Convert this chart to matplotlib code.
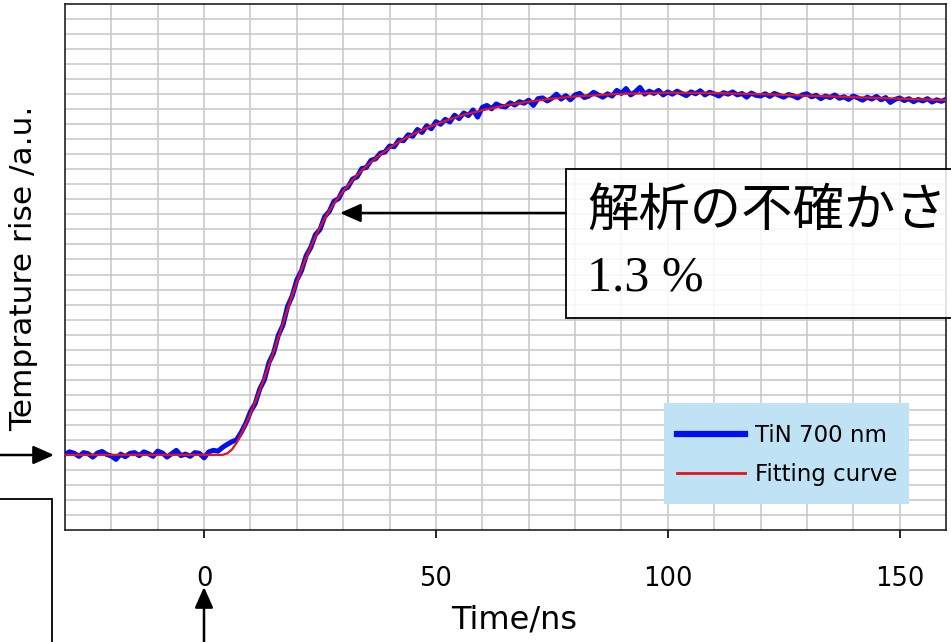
import numpy as np
import matplotlib.pyplot as plt
from matplotlib.patches import Rectangle, FancyArrowPatch
from matplotlib.lines import Line2D

W, H = 951, 642

# measured signal, one sample per ns from -30 ns to 160 ns
time_ns = np.arange(-30, 161, 1)
signal = [
    0.002, 0.008, 0.004, -0.004, 0.006, 0.003, -0.006, 0.005, 0.009, 0.001,
    -0.003, -0.012, 0.002, -0.005, 0.004, 0.006, -0.002, 0.008, 0.003, -0.004,
    0.010, 0.005, -0.006, 0.003, 0.012, -0.002, 0.002, -0.004, 0.006, 0.004,
    -0.008,
    0.008, 0.012, 0.010, 0.020, 0.028, 0.035, 0.040, 0.060, 0.084, 0.115,
    0.136, 0.175, 0.200, 0.246, 0.272, 0.318, 0.345, 0.395, 0.423, 0.466,
    0.490, 0.530, 0.552, 0.586, 0.600, 0.634, 0.648, 0.675, 0.682, 0.706,
    0.712, 0.734, 0.740, 0.762, 0.765, 0.784, 0.788, 0.803, 0.806, 0.822,
    0.820, 0.838, 0.836, 0.852, 0.848, 0.866, 0.858, 0.876, 0.868, 0.887,
    0.880, 0.893, 0.886, 0.904, 0.895, 0.910, 0.903, 0.918, 0.899, 0.925,
    0.930, 0.921, 0.934, 0.928, 0.926, 0.937, 0.931, 0.940, 0.936, 0.944,
    0.930, 0.948, 0.950, 0.942, 0.949, 0.960, 0.947, 0.956, 0.945, 0.958,
    0.962, 0.951, 0.955, 0.965, 0.958, 0.952, 0.961, 0.955, 0.970, 0.962,
    0.975, 0.958, 0.966, 0.978, 0.960, 0.968, 0.962, 0.970, 0.958, 0.966,
    0.960, 0.968, 0.962, 0.956, 0.966, 0.961, 0.969, 0.958, 0.965, 0.961,
    0.955, 0.964, 0.960, 0.966, 0.958, 0.962, 0.952, 0.963, 0.957, 0.955,
    0.961, 0.954, 0.962, 0.957, 0.952, 0.959, 0.956, 0.950, 0.958, 0.961,
    0.953, 0.957, 0.948, 0.955, 0.951, 0.958, 0.949, 0.953, 0.946, 0.955,
    0.950, 0.944, 0.952, 0.947, 0.954, 0.945, 0.951, 0.938, 0.946, 0.950,
    0.943, 0.948, 0.940, 0.946, 0.942, 0.948, 0.939, 0.945, 0.941, 0.946,
]

# fitting curve
fit_t = [-30, 4, 5, 6, 7, 8, 9, 10, 11, 12, 13, 14, 15, 16, 17, 18, 19, 20,
         21, 22, 23, 24, 25, 26, 27, 28, 29, 30, 32, 34, 36, 38, 40, 42, 44,
         46, 48, 50, 53, 56, 60, 65, 70, 75, 80, 90, 100, 110, 120, 130, 140,
         150, 160]
fit_y = [0.0, 0.0, 0.004, 0.014, 0.032, 0.056, 0.083, 0.110, 0.140, 0.172,
         0.205, 0.240, 0.275, 0.312, 0.350, 0.388, 0.425, 0.460, 0.494, 0.525,
         0.554, 0.581, 0.606, 0.629, 0.650, 0.669, 0.686, 0.702, 0.731, 0.757,
         0.779, 0.799, 0.817, 0.833, 0.847, 0.859, 0.870, 0.880, 0.893, 0.905,
         0.917, 0.930, 0.940, 0.948, 0.954, 0.961, 0.964, 0.963, 0.960, 0.956,
         0.952, 0.948, 0.944]

x_ticks = [0, 50, 100, 150]
labels = ["TiN 700 nm", "Fitting curve"]


def fig_xy(px, py):
    # pixel position measured from the top-left -> figure fraction
    return px / W, 1 - py / H


fig = plt.figure(figsize=(W / 100, H / 100), dpi=100)
ax = fig.add_axes([65 / W, 112 / H, 881 / W, 526 / H])

ax.plot(time_ns, signal, color="#0010ee", lw=3.6, zorder=3, solid_capstyle="round")
ax.plot(fit_t, fit_y, color="#e8101a", lw=1.6, zorder=3.5)

ax.set_xlim(-30, 160)
ax.set_ylim(-0.2, 1.2)
ax.set_xticks(x_ticks)
ax.set_xticks(np.arange(-20, 160, 10), minor=True)
ax.set_yticks(np.arange(-0.16, 1.19, 0.04))
ax.set_yticklabels([])
ax.tick_params(axis="y", length=0)
ax.tick_params(axis="x", which="minor", length=0)
ax.tick_params(axis="x", which="major", length=6, width=1.2, pad=20,
               labelsize=18.5, direction="out")
ax.grid(True, axis="x", which="both", color="#c6c6c6", lw=1.1)
ax.grid(True, axis="y", which="major", color="#c6c6c6", lw=1.1)
ax.set_axisbelow(True)
for s in ax.spines.values():
    s.set_linewidth(1.2)
    s.set_color("#222222")

ax.set_xlabel("Time/ns", fontsize=23, labelpad=9, x=0.51)
fig.text(24 / W, 1 - 268 / H, "Temprature rise /a.u.", rotation=90,
         fontsize=22.5, ha="center", va="center")

# legend on light-blue panel
ax.add_patch(Rectangle((599 / 881, 26 / 526), 245 / 881, 101 / 526,
                       transform=ax.transAxes, fc="#bfe3f5", ec="none", zorder=4))
handles = [Line2D([], [], color="#0010ee", lw=4.5), Line2D([], [], color="#e8101a", lw=2)]
leg = ax.legend(handles, labels, loc="upper left",
                bbox_to_anchor=(612 / 881, 0.2015), frameon=False,
                fontsize=16.5, handlelength=2.97, handletextpad=0.45,
                labelspacing=0.7, borderpad=0, borderaxespad=0)
leg.set_zorder(5)

# text box with arrow
fig.add_artist(Rectangle(fig_xy(566, 318), 400 / W, 149 / H,
                         transform=fig.transFigure, fc=(1, 1, 1, 0.85),
                         ec="black", lw=1.3))
fig.text(*fig_xy(587, 211), "解析の不確かさ", fontsize=37,
         family=["Noto Sans CJK JP", "DejaVu Sans"], ha="left", va="center")
fig.text(*fig_xy(587, 278), "1.3 %", fontsize=36, family="Liberation Serif",
         ha="left", va="center")

# clipped box at lower left
fig.add_artist(Rectangle(fig_xy(-10, 660), 62 / W, 161 / H,
                         transform=fig.transFigure, fc="none", ec="black", lw=1.3))

arrow_kw = dict(transform=fig.transFigure, arrowstyle="-|>,head_length=0.9,head_width=0.4",
                mutation_scale=14, lw=1.8, color="black", shrinkA=0, shrinkB=0)
fig.add_artist(FancyArrowPatch(fig_xy(566, 213), fig_xy(340, 213), **arrow_kw))
fig.add_artist(FancyArrowPatch(fig_xy(0, 455), fig_xy(54, 455), **arrow_kw))
fig.add_artist(FancyArrowPatch(fig_xy(204, 645), fig_xy(204, 587), **arrow_kw))

fig.savefig("out.png", dpi=100, facecolor="white")
